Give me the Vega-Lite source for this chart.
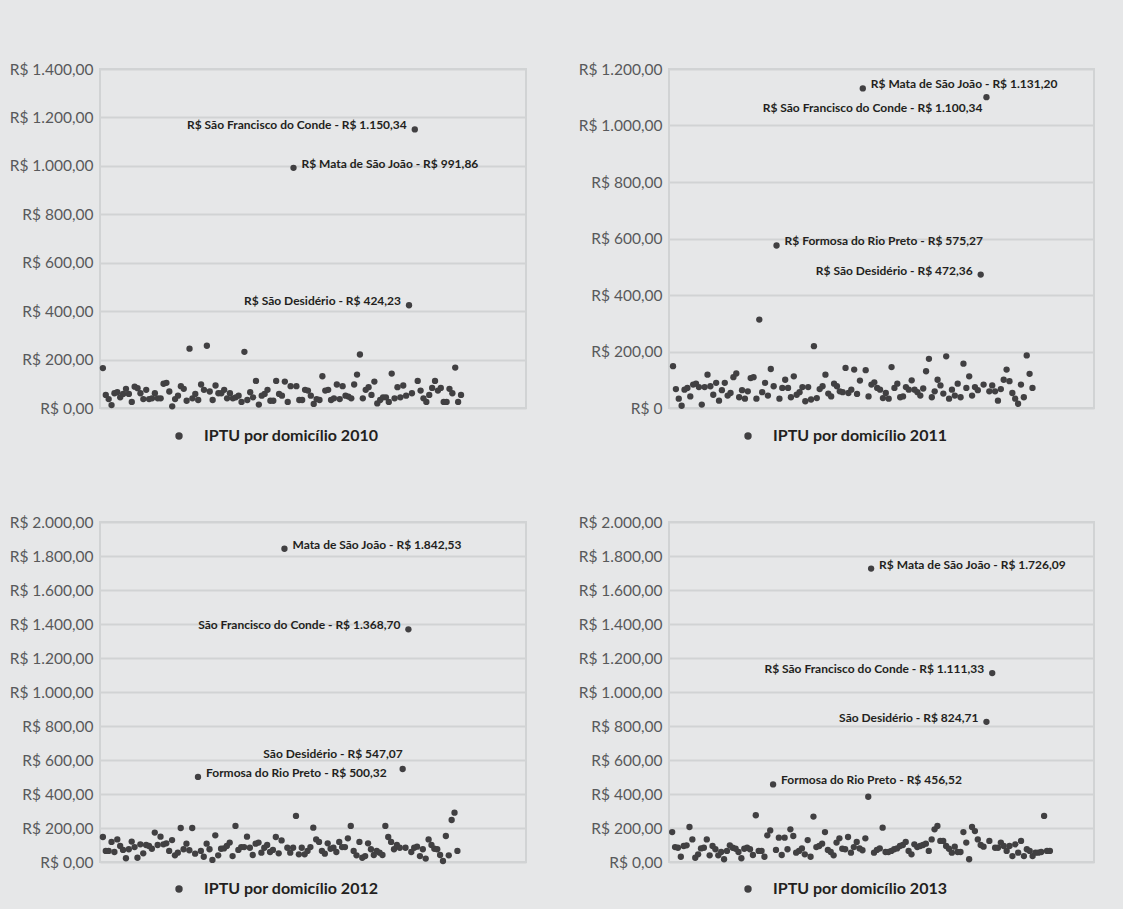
{
  "$schema": "https://vega.github.io/schema/vega-lite/v6.json",
  "background": "#e6e7e8",
  "padding": {"left": 8, "top": 61, "right": 28, "bottom": 11},
  "config": {
    "font": "Lato",
    "locale": {"number": {"decimal": ",", "thousands": ".", "grouping": [3], "currency": ["R$ ", ""]}},
    "view": {"stroke": "#d1d3d4", "strokeWidth": 2},
    "axisY": {"domain": false, "ticks": false, "labelFont": "Lato", "labelFontSize": 15.5, "labelColor": "#58595b", "labelPadding": 7, "labelOverlap": false, "gridColor": "#d1d3d4", "gridWidth": 2, "title": null},
    "legend": {"orient": "none", "legendX": 71, "legendY": 359, "padding": 0, "labelFont": "Lato", "labelFontSize": 16, "labelFontWeight": "bold", "labelColor": "#231f20", "labelLimit": 0, "symbolType": "circle", "symbolSize": 55, "labelOffset": 17},
    "text": {"font": "Lato", "fontWeight": "bold", "fontSize": 12, "color": "#231f20", "baseline": "middle"},
    "point": {"filled": true, "size": 40, "opacity": 1}
  },
  "datasets": {
    "d2010": [{"n":1,"v":165},{"n":2,"v":54},{"n":3,"v":37},{"n":4,"v":12},{"n":5,"v":61},{"n":6,"v":65},{"n":7,"v":44},{"n":8,"v":58},{"n":9,"v":79},{"n":10,"v":58},{"n":11,"v":25},{"n":12,"v":88},{"n":13,"v":82},{"n":14,"v":61},{"n":15,"v":37},{"n":16,"v":75},{"n":17,"v":37},{"n":18,"v":40},{"n":19,"v":61},{"n":20,"v":40},{"n":21,"v":40},{"n":22,"v":100},{"n":23,"v":104},{"n":24,"v":68},{"n":25,"v":7},{"n":26,"v":37},{"n":27,"v":51},{"n":28,"v":90},{"n":29,"v":79},{"n":30,"v":30},{"n":31,"v":245},{"n":32,"v":40},{"n":33,"v":58},{"n":34,"v":33},{"n":35,"v":97},{"n":36,"v":75},{"n":37,"v":257},{"n":38,"v":68},{"n":39,"v":33},{"n":40,"v":93},{"n":41,"v":61},{"n":42,"v":61},{"n":43,"v":75},{"n":44,"v":40},{"n":45,"v":61},{"n":46,"v":40},{"n":47,"v":44},{"n":48,"v":51},{"n":49,"v":25},{"n":50,"v":232},{"n":51,"v":33},{"n":52,"v":65},{"n":53,"v":44},{"n":54,"v":112},{"n":55,"v":14},{"n":56,"v":51},{"n":57,"v":58},{"n":58,"v":75},{"n":59,"v":30},{"n":60,"v":30},{"n":61,"v":112},{"n":62,"v":58},{"n":63,"v":51},{"n":64,"v":109},{"n":65,"v":25},{"n":66,"v":90},{"n":67,"v":991.86},{"n":68,"v":90},{"n":69,"v":33},{"n":70,"v":33},{"n":71,"v":75},{"n":72,"v":72},{"n":73,"v":51},{"n":74,"v":17},{"n":75,"v":37},{"n":76,"v":33},{"n":77,"v":131},{"n":78,"v":72},{"n":79,"v":75},{"n":80,"v":33},{"n":81,"v":40},{"n":82,"v":97},{"n":83,"v":37},{"n":84,"v":90},{"n":85,"v":51},{"n":86,"v":47},{"n":87,"v":40},{"n":88,"v":97},{"n":89,"v":138},{"n":90,"v":221},{"n":91,"v":40},{"n":92,"v":75},{"n":93,"v":86},{"n":94,"v":54},{"n":95,"v":109},{"n":96,"v":19},{"n":97,"v":33},{"n":98,"v":44},{"n":99,"v":44},{"n":100,"v":25},{"n":101,"v":142},{"n":102,"v":40},{"n":103,"v":86},{"n":104,"v":44},{"n":105,"v":93},{"n":106,"v":51},{"n":107,"v":424.23},{"n":108,"v":61},{"n":109,"v":1150.34},{"n":110,"v":112},{"n":111,"v":72},{"n":112,"v":40},{"n":113,"v":25},{"n":114,"v":54},{"n":115,"v":83},{"n":116,"v":112},{"n":117,"v":72},{"n":118,"v":83},{"n":119,"v":25},{"n":120,"v":25},{"n":121,"v":79},{"n":122,"v":61},{"n":123,"v":167},{"n":124,"v":25},{"n":125,"v":54}],
    "d2011": [{"n":1,"v":148},{"n":2,"v":67},{"n":3,"v":33},{"n":4,"v":8},{"n":5,"v":65},{"n":6,"v":71},{"n":7,"v":41},{"n":8,"v":83},{"n":9,"v":86},{"n":10,"v":74},{"n":11,"v":12},{"n":12,"v":74},{"n":13,"v":118},{"n":14,"v":77},{"n":15,"v":47},{"n":16,"v":89},{"n":17,"v":26},{"n":18,"v":63},{"n":19,"v":89},{"n":20,"v":44},{"n":21,"v":53},{"n":22,"v":109},{"n":23,"v":122},{"n":24,"v":38},{"n":25,"v":63},{"n":26,"v":33},{"n":27,"v":59},{"n":28,"v":106},{"n":29,"v":109},{"n":30,"v":33},{"n":31,"v":313},{"n":32,"v":56},{"n":33,"v":89},{"n":34,"v":44},{"n":35,"v":138},{"n":36,"v":77},{"n":37,"v":575.27},{"n":38,"v":33},{"n":39,"v":71},{"n":40,"v":100},{"n":41,"v":71},{"n":42,"v":38},{"n":43,"v":112},{"n":44,"v":47},{"n":45,"v":56},{"n":46,"v":74},{"n":47,"v":24},{"n":48,"v":74},{"n":49,"v":30},{"n":50,"v":219},{"n":51,"v":35},{"n":52,"v":67},{"n":53,"v":77},{"n":54,"v":118},{"n":55,"v":51},{"n":56,"v":41},{"n":57,"v":86},{"n":58,"v":77},{"n":59,"v":59},{"n":60,"v":56},{"n":61,"v":142},{"n":62,"v":53},{"n":63,"v":65},{"n":64,"v":136},{"n":65,"v":50},{"n":66,"v":97},{"n":67,"v":1131.2},{"n":68,"v":134},{"n":69,"v":41},{"n":70,"v":83},{"n":71,"v":91},{"n":72,"v":71},{"n":73,"v":65},{"n":74,"v":35},{"n":75,"v":53},{"n":76,"v":33},{"n":77,"v":145},{"n":78,"v":71},{"n":79,"v":86},{"n":80,"v":38},{"n":81,"v":41},{"n":82,"v":74},{"n":83,"v":65},{"n":84,"v":98},{"n":85,"v":65},{"n":86,"v":56},{"n":87,"v":44},{"n":88,"v":69},{"n":89,"v":130},{"n":90,"v":174},{"n":91,"v":38},{"n":92,"v":59},{"n":93,"v":100},{"n":94,"v":80},{"n":95,"v":51},{"n":96,"v":183},{"n":97,"v":33},{"n":98,"v":65},{"n":99,"v":44},{"n":100,"v":86},{"n":101,"v":38},{"n":102,"v":157},{"n":103,"v":71},{"n":104,"v":112},{"n":105,"v":44},{"n":106,"v":74},{"n":107,"v":63},{"n":108,"v":472.36},{"n":109,"v":83},{"n":110,"v":1100.34},{"n":111,"v":59},{"n":112,"v":80},{"n":113,"v":59},{"n":114,"v":26},{"n":115,"v":67},{"n":116,"v":100},{"n":117,"v":136},{"n":118,"v":95},{"n":119,"v":53},{"n":120,"v":33},{"n":121,"v":15},{"n":122,"v":83},{"n":123,"v":38},{"n":124,"v":186},{"n":125,"v":121},{"n":126,"v":71}],
    "d2012": [{"n":1,"v":147},{"n":2,"v":65},{"n":3,"v":65},{"n":4,"v":118},{"n":5,"v":59},{"n":6,"v":133},{"n":7,"v":94},{"n":8,"v":71},{"n":9,"v":22},{"n":10,"v":75},{"n":11,"v":120},{"n":12,"v":88},{"n":13,"v":25},{"n":14,"v":104},{"n":15,"v":51},{"n":16,"v":100},{"n":17,"v":94},{"n":18,"v":78},{"n":19,"v":173},{"n":20,"v":100},{"n":21,"v":149},{"n":22,"v":104},{"n":23,"v":110},{"n":24,"v":65},{"n":25,"v":129},{"n":26,"v":39},{"n":27,"v":55},{"n":28,"v":200},{"n":29,"v":75},{"n":30,"v":108},{"n":31,"v":69},{"n":32,"v":200},{"n":33,"v":49},{"n":34,"v":500.32},{"n":35,"v":65},{"n":36,"v":31},{"n":37,"v":108},{"n":38,"v":75},{"n":39,"v":12},{"n":40,"v":157},{"n":41,"v":39},{"n":42,"v":78},{"n":43,"v":80},{"n":44,"v":94},{"n":45,"v":114},{"n":46,"v":35},{"n":47,"v":212},{"n":48,"v":71},{"n":49,"v":88},{"n":50,"v":88},{"n":51,"v":149},{"n":52,"v":84},{"n":53,"v":41},{"n":54,"v":108},{"n":55,"v":114},{"n":56,"v":55},{"n":57,"v":84},{"n":58,"v":100},{"n":59,"v":59},{"n":60,"v":71},{"n":61,"v":147},{"n":62,"v":51},{"n":63,"v":127},{"n":64,"v":1842.53},{"n":65,"v":84},{"n":66,"v":55},{"n":67,"v":84},{"n":68,"v":271},{"n":69,"v":45},{"n":70,"v":84},{"n":71,"v":45},{"n":72,"v":65},{"n":73,"v":88},{"n":74,"v":202},{"n":75,"v":133},{"n":76,"v":118},{"n":77,"v":65},{"n":78,"v":49},{"n":79,"v":110},{"n":80,"v":78},{"n":81,"v":84},{"n":82,"v":59},{"n":83,"v":118},{"n":84,"v":88},{"n":85,"v":88},{"n":86,"v":139},{"n":87,"v":212},{"n":88,"v":65},{"n":89,"v":39},{"n":90,"v":118},{"n":91,"v":25},{"n":92,"v":35},{"n":93,"v":110},{"n":94,"v":75},{"n":95,"v":41},{"n":96,"v":65},{"n":97,"v":55},{"n":98,"v":41},{"n":99,"v":212},{"n":100,"v":147},{"n":101,"v":118},{"n":102,"v":75},{"n":103,"v":100},{"n":104,"v":84},{"n":105,"v":547.07},{"n":106,"v":84},{"n":107,"v":1368.7},{"n":108,"v":59},{"n":109,"v":84},{"n":110,"v":90},{"n":111,"v":35},{"n":112,"v":75},{"n":113,"v":20},{"n":114,"v":133},{"n":115,"v":100},{"n":116,"v":78},{"n":117,"v":75},{"n":118,"v":41},{"n":119,"v":6},{"n":120,"v":153},{"n":121,"v":39},{"n":122,"v":247},{"n":123,"v":290},{"n":124,"v":65}],
    "d2013": [{"n":1,"v":176},{"n":2,"v":88},{"n":3,"v":84},{"n":4,"v":31},{"n":5,"v":94},{"n":6,"v":98},{"n":7,"v":206},{"n":8,"v":133},{"n":9,"v":25},{"n":10,"v":45},{"n":11,"v":80},{"n":12,"v":84},{"n":13,"v":133},{"n":14,"v":39},{"n":15,"v":94},{"n":16,"v":75},{"n":17,"v":39},{"n":18,"v":59},{"n":19,"v":16},{"n":20,"v":65},{"n":21,"v":98},{"n":22,"v":84},{"n":23,"v":78},{"n":24,"v":59},{"n":25,"v":22},{"n":26,"v":78},{"n":27,"v":84},{"n":28,"v":75},{"n":29,"v":41},{"n":30,"v":275},{"n":31,"v":65},{"n":32,"v":65},{"n":33,"v":31},{"n":34,"v":157},{"n":35,"v":186},{"n":36,"v":456.52},{"n":37,"v":71},{"n":38,"v":143},{"n":39,"v":41},{"n":40,"v":143},{"n":41,"v":75},{"n":42,"v":192},{"n":43,"v":153},{"n":44,"v":55},{"n":45,"v":65},{"n":46,"v":80},{"n":47,"v":45},{"n":48,"v":129},{"n":49,"v":31},{"n":50,"v":267},{"n":51,"v":88},{"n":52,"v":94},{"n":53,"v":108},{"n":54,"v":176},{"n":55,"v":71},{"n":56,"v":59},{"n":57,"v":39},{"n":58,"v":114},{"n":59,"v":139},{"n":60,"v":78},{"n":61,"v":75},{"n":62,"v":147},{"n":63,"v":55},{"n":64,"v":88},{"n":65,"v":118},{"n":66,"v":80},{"n":67,"v":69},{"n":68,"v":139},{"n":69,"v":384},{"n":70,"v":1726.09},{"n":71,"v":55},{"n":72,"v":71},{"n":73,"v":80},{"n":74,"v":202},{"n":75,"v":59},{"n":76,"v":59},{"n":77,"v":65},{"n":78,"v":75},{"n":79,"v":80},{"n":80,"v":94},{"n":81,"v":100},{"n":82,"v":118},{"n":83,"v":65},{"n":84,"v":45},{"n":85,"v":104},{"n":86,"v":88},{"n":87,"v":94},{"n":88,"v":100},{"n":89,"v":108},{"n":90,"v":65},{"n":91,"v":133},{"n":92,"v":192},{"n":93,"v":212},{"n":94,"v":124},{"n":95,"v":124},{"n":96,"v":94},{"n":97,"v":78},{"n":98,"v":55},{"n":99,"v":90},{"n":100,"v":59},{"n":101,"v":59},{"n":102,"v":176},{"n":103,"v":114},{"n":104,"v":16},{"n":105,"v":206},{"n":106,"v":182},{"n":107,"v":133},{"n":108,"v":100},{"n":109,"v":90},{"n":110,"v":824.71},{"n":111,"v":124},{"n":112,"v":1111.33},{"n":113,"v":84},{"n":114,"v":84},{"n":115,"v":114},{"n":116,"v":94},{"n":117,"v":65},{"n":118,"v":94},{"n":119,"v":35},{"n":120,"v":104},{"n":121,"v":55},{"n":122,"v":124},{"n":123,"v":35},{"n":124,"v":75},{"n":125,"v":65},{"n":126,"v":35},{"n":127,"v":55},{"n":128,"v":55},{"n":129,"v":59},{"n":130,"v":271},{"n":131,"v":65},{"n":132,"v":65}],
    "rotulos": [
      {"ano":2010,"municipio":"São Francisco do Conde","n":109,"v":1150.34,"rotulo":"R$ São Francisco do Conde - R$ 1.150,34"},
      {"ano":2010,"municipio":"Mata de São João","n":67,"v":991.86,"rotulo":"R$ Mata de São João - R$ 991,86"},
      {"ano":2010,"municipio":"São Desidério","n":107,"v":424.23,"rotulo":"R$ São Desidério - R$ 424,23"},
      {"ano":2011,"municipio":"Mata de São João","n":67,"v":1131.2,"rotulo":"R$ Mata de São João - R$ 1.131,20"},
      {"ano":2011,"municipio":"São Francisco do Conde","n":110,"v":1100.34,"rotulo":"R$ São Francisco do Conde - R$ 1.100,34"},
      {"ano":2011,"municipio":"Formosa do Rio Preto","n":37,"v":575.27,"rotulo":"R$ Formosa do Rio Preto - R$ 575,27"},
      {"ano":2011,"municipio":"São Desidério","n":108,"v":472.36,"rotulo":"R$ São Desidério - R$ 472,36"},
      {"ano":2012,"municipio":"Mata de São João","n":64,"v":1842.53,"rotulo":"Mata de São João - R$ 1.842,53"},
      {"ano":2012,"municipio":"São Francisco do Conde","n":107,"v":1368.7,"rotulo":"São Francisco do Conde - R$ 1.368,70"},
      {"ano":2012,"municipio":"São Desidério","n":105,"v":547.07,"rotulo":"São Desidério - R$ 547,07"},
      {"ano":2012,"municipio":"Formosa do Rio Preto","n":34,"v":500.32,"rotulo":"Formosa do Rio Preto - R$ 500,32"},
      {"ano":2013,"municipio":"Mata de São João","n":70,"v":1726.09,"rotulo":"R$ Mata de São João - R$ 1.726,09"},
      {"ano":2013,"municipio":"São Francisco do Conde","n":112,"v":1111.33,"rotulo":"R$ São Francisco do Conde - R$ 1.111,33"},
      {"ano":2013,"municipio":"São Desidério","n":110,"v":824.71,"rotulo":"São Desidério - R$ 824,71"},
      {"ano":2013,"municipio":"Formosa do Rio Preto","n":36,"v":456.52,"rotulo":"Formosa do Rio Preto - R$ 456,52"}
    ]
  },
  "spacing": 69,
  "resolve": {"scale": {"x": "independent", "y": "independent", "color": "independent"}, "legend": {"color": "independent"}},
  "vconcat": [
    {
      "spacing": 50,
      "resolve": {"scale": {"x": "independent", "y": "independent", "color": "independent"}, "legend": {"color": "independent"}},
      "hconcat": [
        {
          "width": 426, "height": 339,
          "encoding": {
            "x": {"field": "n", "type": "quantitative", "scale": {"domain": [0, 147.5]}, "axis": null},
            "y": {"field": "v", "type": "quantitative", "scale": {"domain": [0, 1400], "nice": false}, "axis": {"values": [0,200,400,600,800,1000,1200,1400], "tickCount": 8, "format": "$,.2f"}}
          },
          "layer": [
            {"data": {"name": "d2010"}, "mark": {"type": "point"},
             "encoding": {"color": {"datum": "IPTU por domicílio 2010", "type": "nominal", "scale": {"range": ["#414042"]}, "legend": {"title": null}}}},
            {"data": {"name": "rotulos"}, "transform": [{"filter": "datum.ano == 2010 && datum.municipio == 'Mata de São João'"}],
             "mark": {"type": "text", "align": "left", "dx": 8, "dy": -4},
             "encoding": {"text": {"field": "rotulo"}}},
            {"data": {"name": "rotulos"}, "transform": [{"filter": "datum.ano == 2010 && datum.municipio != 'Mata de São João'"}],
             "mark": {"type": "text", "align": "right", "dx": -8, "dy": -4},
             "encoding": {"text": {"field": "rotulo"}}}
          ]
        },
        {
          "width": 425, "height": 339,
          "encoding": {
            "x": {"field": "n", "type": "quantitative", "scale": {"domain": [-0.4, 147.4]}, "axis": null},
            "y": {"field": "v", "type": "quantitative", "scale": {"domain": [0, 1200], "nice": false}, "axis": {"values": [0,200,400,600,800,1000,1200], "tickCount": 7, "format": "$,.2f", "labelExpr": "datum.value == 0 ? 'R$ 0' : datum.label"}}
          },
          "layer": [
            {"data": {"name": "d2011"}, "mark": {"type": "point"},
             "encoding": {"color": {"datum": "IPTU por domicílio 2011", "type": "nominal", "scale": {"range": ["#414042"]}, "legend": {"title": null}}}},
            {"data": {"name": "rotulos"}, "transform": [{"filter": "datum.ano == 2011 && (datum.municipio == 'Mata de São João' || datum.municipio == 'Formosa do Rio Preto')"}],
             "mark": {"type": "text", "align": "left", "dx": 8, "dy": -4},
             "encoding": {"text": {"field": "rotulo"}}},
            {"data": {"name": "rotulos"}, "transform": [{"filter": "datum.ano == 2011 && datum.municipio == 'São Desidério'"}],
             "mark": {"type": "text", "align": "right", "dx": -8, "dy": -4},
             "encoding": {"text": {"field": "rotulo"}}},
            {"data": {"name": "rotulos"}, "transform": [{"filter": "datum.ano == 2011 && datum.municipio == 'São Francisco do Conde'"}],
             "mark": {"type": "text", "align": "right", "dx": -4, "dy": 11},
             "encoding": {"text": {"field": "rotulo"}}}
          ]
        }
      ]
    },
    {
      "spacing": 50,
      "resolve": {"scale": {"x": "independent", "y": "independent", "color": "independent"}, "legend": {"color": "independent"}},
      "hconcat": [
        {
          "width": 426, "height": 340,
          "encoding": {
            "x": {"field": "n", "type": "quantitative", "scale": {"domain": [0, 147.8]}, "axis": null},
            "y": {"field": "v", "type": "quantitative", "scale": {"domain": [0, 2000], "nice": false}, "axis": {"values": [0,200,400,600,800,1000,1200,1400,1600,1800,2000], "tickCount": 11, "format": "$,.2f"}}
          },
          "layer": [
            {"data": {"name": "d2012"}, "mark": {"type": "point"},
             "encoding": {"color": {"datum": "IPTU por domicílio 2012", "type": "nominal", "scale": {"range": ["#414042"]}, "legend": {"title": null}}}},
            {"data": {"name": "rotulos"}, "transform": [{"filter": "datum.ano == 2012 && (datum.municipio == 'Mata de São João' || datum.municipio == 'Formosa do Rio Preto')"}],
             "mark": {"type": "text", "align": "left", "dx": 8, "dy": -4},
             "encoding": {"text": {"field": "rotulo"}}},
            {"data": {"name": "rotulos"}, "transform": [{"filter": "datum.ano == 2012 && datum.municipio == 'São Francisco do Conde'"}],
             "mark": {"type": "text", "align": "right", "dx": -8, "dy": -4},
             "encoding": {"text": {"field": "rotulo"}}},
            {"data": {"name": "rotulos"}, "transform": [{"filter": "datum.ano == 2012 && datum.municipio == 'São Desidério'"}],
             "mark": {"type": "text", "align": "right", "dx": 0, "dy": -15},
             "encoding": {"text": {"field": "rotulo"}}}
          ]
        },
        {
          "width": 425, "height": 340,
          "encoding": {
            "x": {"field": "n", "type": "quantitative", "scale": {"domain": [-0.1, 147.3]}, "axis": null},
            "y": {"field": "v", "type": "quantitative", "scale": {"domain": [0, 2000], "nice": false}, "axis": {"values": [0,200,400,600,800,1000,1200,1400,1600,1800,2000], "tickCount": 11, "format": "$,.2f"}}
          },
          "layer": [
            {"data": {"name": "d2013"}, "mark": {"type": "point"},
             "encoding": {"color": {"datum": "IPTU por domicílio 2013", "type": "nominal", "scale": {"range": ["#414042"]}, "legend": {"title": null}}}},
            {"data": {"name": "rotulos"}, "transform": [{"filter": "datum.ano == 2013 && (datum.municipio == 'Mata de São João' || datum.municipio == 'Formosa do Rio Preto')"}],
             "mark": {"type": "text", "align": "left", "dx": 8, "dy": -4},
             "encoding": {"text": {"field": "rotulo"}}},
            {"data": {"name": "rotulos"}, "transform": [{"filter": "datum.ano == 2013 && (datum.municipio == 'São Francisco do Conde' || datum.municipio == 'São Desidério')"}],
             "mark": {"type": "text", "align": "right", "dx": -8, "dy": -4},
             "encoding": {"text": {"field": "rotulo"}}}
          ]
        }
      ]
    }
  ]
}
